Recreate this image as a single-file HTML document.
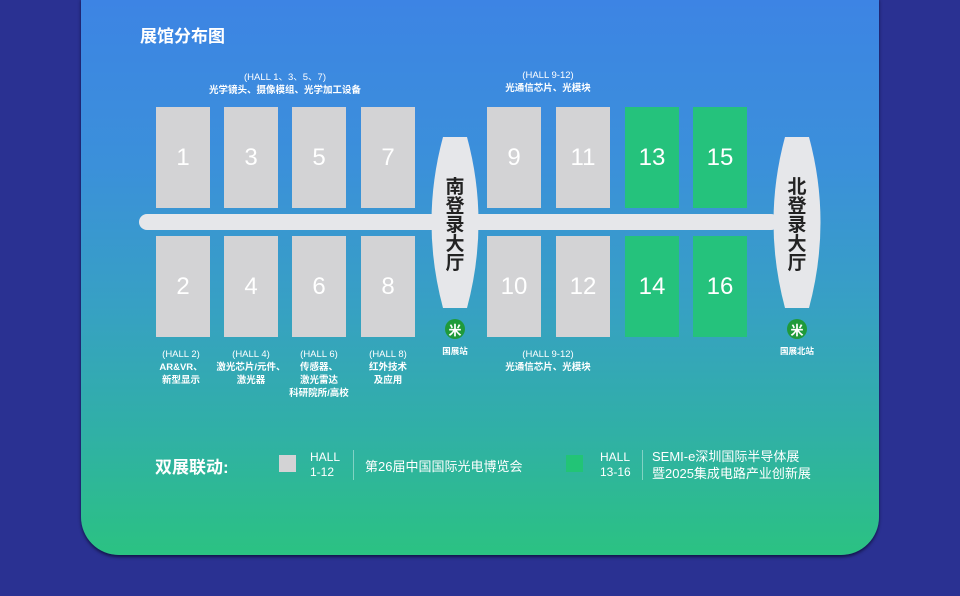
<!DOCTYPE html>
<html><head><meta charset="utf-8"><style>
body{margin:0;width:960px;height:596px;background:#2a3192;overflow:hidden;position:relative;font-family:"Liberation Sans","Noto Sans CJK SC",sans-serif}
.card{position:absolute;left:81px;top:-2px;width:798px;height:557px;border-radius:0 0 38px 38px;background:linear-gradient(180deg,#3d84e4 0%,#3b90da 30%,#37a0c4 55%,#30b0a6 78%,#2bc282 100%);box-shadow:0 2px 3px rgba(0,0,20,.6)}
.a{position:absolute;color:#fff;text-align:center}
.h{position:absolute;width:54px;height:101px;background:#d3d3d5;color:#fff;font-size:24px;display:flex;align-items:center;justify-content:center}
.g{background:#25c27c}
.s{font-size:9.5px;line-height:13px;font-weight:normal}
.b{font-size:9.5px;line-height:13px;font-weight:bold}
</style></head><body>
<div class="card"></div>
<div class="a" style="left:140px;top:22px;font-size:17px;font-weight:bold">展馆分布图</div>
<div class="a" style="left:180px;top:71px;width:210px"><div class="s">(HALL 1、3、5、7)</div><div class="b">光学镜头、摄像模组、光学加工设备</div></div>
<div class="a" style="left:488px;top:69px;width:120px"><div class="s">(HALL 9-12)</div><div class="b">光通信芯片、光模块</div></div>
<div style="position:absolute;left:139px;top:214px;width:640px;height:16px;background:#e6e7ea;border-radius:8px"></div>
<svg style="position:absolute;left:0;top:0" width="960" height="596">
<path d="M443,137 L467,137 Q490,222 467,308 L443,308 Q420,222 443,137Z" fill="#e6e7ea"/>
<path d="M785,137 L809,137 Q832,222 809,308 L785,308 Q762,222 785,137Z" fill="#e6e7ea"/>
<circle cx="455" cy="329" r="10" fill="#1f9a3a"/><circle cx="797" cy="329" r="10" fill="#1f9a3a"/>
</svg>
<div class="a" style="left:441px;top:178px;width:28px;color:#222;font-size:19px;font-weight:bold;line-height:19px">南<br>登<br>录<br>大<br>厅</div>
<div class="a" style="left:783px;top:178px;width:28px;color:#222;font-size:19px;font-weight:bold;line-height:19px">北<br>登<br>录<br>大<br>厅</div>
<div class="a" style="left:446px;top:320px;width:18px;font-size:13px;font-weight:bold">米</div>
<div class="a" style="left:788px;top:320px;width:18px;font-size:13px;font-weight:bold">米</div>
<div class="a b" style="left:430px;top:345px;width:50px;font-size:8.5px">国展站</div>
<div class="a b" style="left:767px;top:345px;width:60px;font-size:8.5px">国展北站</div>
<div class="h" style="left:156px;top:107px">1</div>
<div class="h" style="left:224px;top:107px">3</div>
<div class="h" style="left:292px;top:107px">5</div>
<div class="h" style="left:361px;top:107px">7</div>
<div class="h" style="left:487px;top:107px">9</div>
<div class="h" style="left:556px;top:107px">11</div>
<div class="h g" style="left:625px;top:107px">13</div>
<div class="h g" style="left:693px;top:107px">15</div>
<div class="h" style="left:156px;top:236px">2</div>
<div class="h" style="left:224px;top:236px">4</div>
<div class="h" style="left:292px;top:236px">6</div>
<div class="h" style="left:361px;top:236px">8</div>
<div class="h" style="left:487px;top:236px">10</div>
<div class="h" style="left:556px;top:236px">12</div>
<div class="h g" style="left:625px;top:236px">14</div>
<div class="h g" style="left:693px;top:236px">16</div>
<div class="a" style="left:143px;top:348px;width:76px"><div class="s">(HALL 2)</div><div class="b">AR&amp;VR、<br>新型显示</div></div>
<div class="a" style="left:206px;top:348px;width:90px"><div class="s">(HALL 4)</div><div class="b">激光芯片/元件、<br>激光器</div></div>
<div class="a" style="left:274px;top:348px;width:90px"><div class="s">(HALL 6)</div><div class="b">传感器、<br>激光雷达<br>科研院所/高校</div></div>
<div class="a" style="left:348px;top:348px;width:80px"><div class="s">(HALL 8)</div><div class="b">红外技术<br>及应用</div></div>
<div class="a" style="left:488px;top:348px;width:120px"><div class="s">(HALL 9-12)</div><div class="b">光通信芯片、光模块</div></div>
<div class="a" style="left:155px;top:453px;font-size:17px;font-weight:bold">双展联动:</div>
<div style="position:absolute;left:279px;top:455px;width:17px;height:17px;background:#d3d3d5"></div>
<div class="a" style="left:310px;top:450px;font-size:12px;line-height:15px;text-align:left">HALL<br>1-12</div>
<div style="position:absolute;left:353px;top:450px;width:1px;height:30px;background:rgba(255,255,255,.4)"></div>
<div class="a" style="left:365px;top:456px;font-size:13px">第26届中国国际光电博览会</div>
<div style="position:absolute;left:566px;top:455px;width:17px;height:17px;background:#22c476"></div>
<div class="a" style="left:600px;top:450px;font-size:12px;line-height:15px;text-align:left">HALL<br>13-16</div>
<div style="position:absolute;left:642px;top:450px;width:1px;height:30px;background:rgba(255,255,255,.4)"></div>
<div class="a" style="left:652px;top:448px;font-size:13px;line-height:17px;text-align:left">SEMI-e深圳国际半导体展<br>暨2025集成电路产业创新展</div>
</body></html>
